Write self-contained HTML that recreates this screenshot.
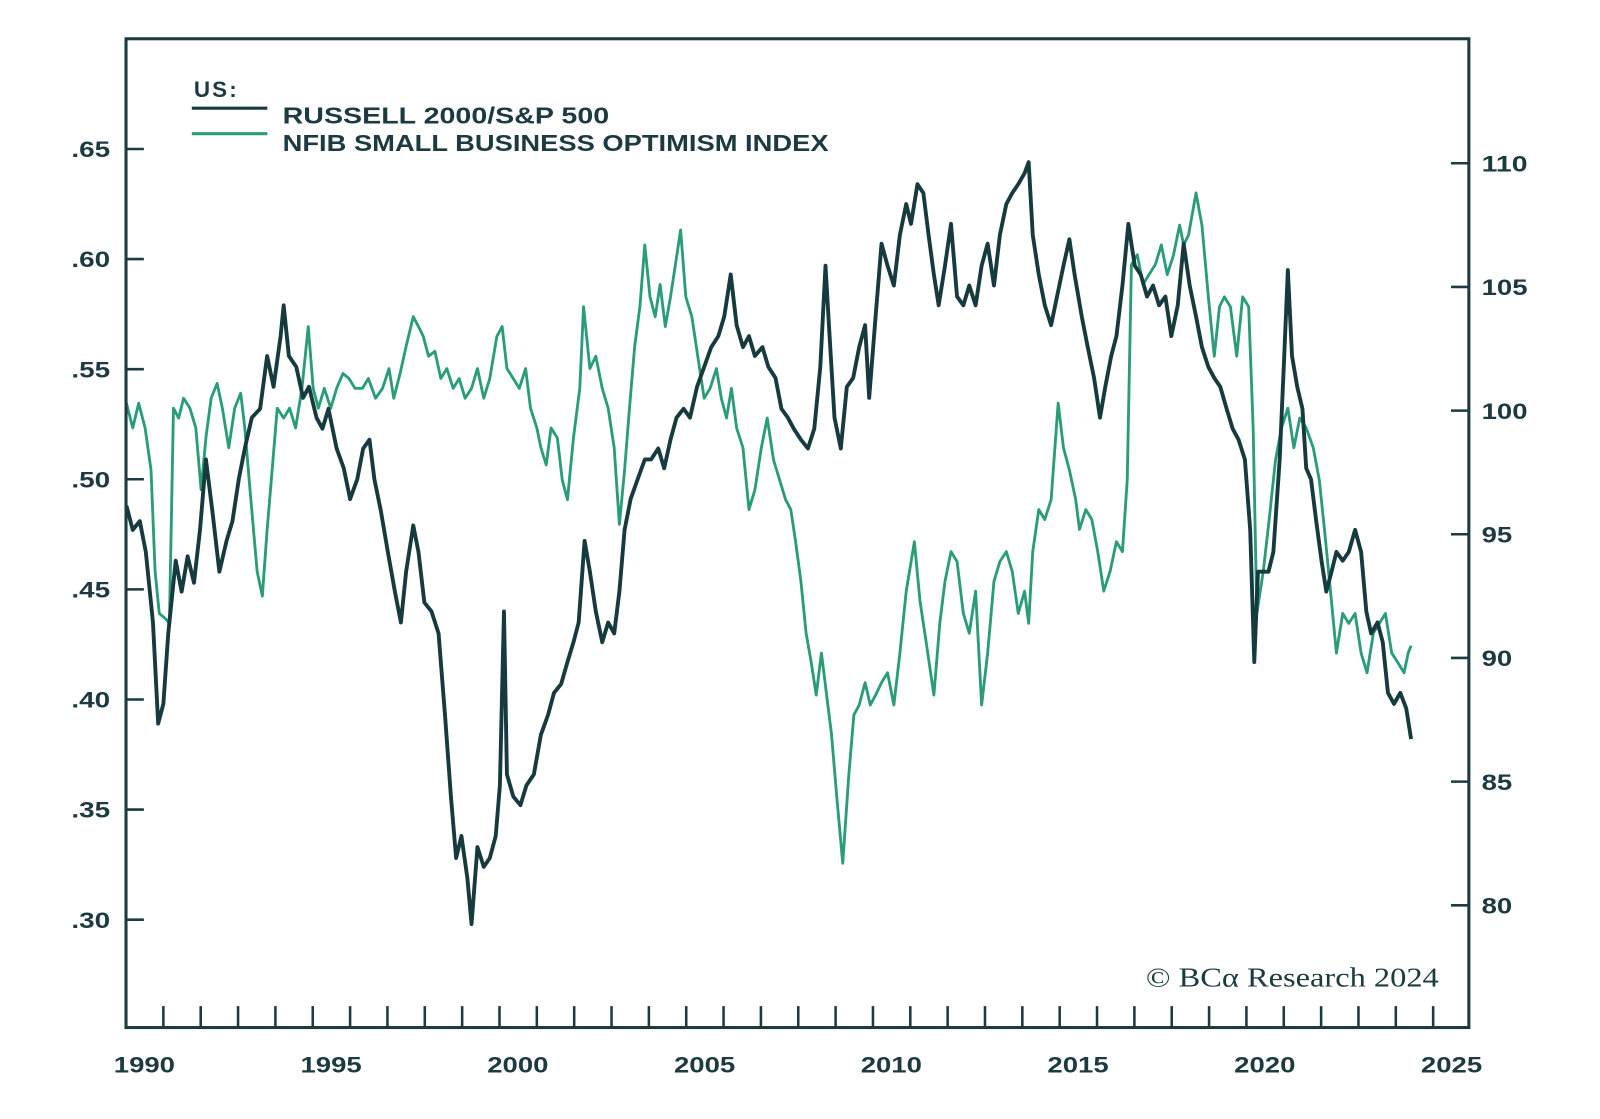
<!DOCTYPE html>
<html><head><meta charset="utf-8"><style>
html,body{margin:0;padding:0;background:#fff;}
svg{display:block;font-family:"Liberation Sans",sans-serif;}
</style></head><body>
<svg id="chart" width="1600" height="1119" viewBox="0 0 1600 1119">
<rect x="0" y="0" width="1600" height="1119" fill="#fff"/>
<defs><clipPath id="plotclip"><rect x="124" y="39" width="1315" height="967"/></clipPath></defs>
<g transform="scale(1.0204)">
<g id="axes"></g>
<g id="series" clip-path="url(#plotclip)"></g>
<rect x="123.5" y="38" width="1316" height="969" fill="none" stroke="#1c3a3f" stroke-width="3"/>
<g>
<text x="190" y="95" font-size="22" font-weight="bold" fill="#1c3a3f" textLength="42">US:</text>
<line x1="188" y1="106" x2="262" y2="106" stroke="#163a3e" stroke-width="3"/>
<text x="277" y="121" font-size="23" font-weight="bold" fill="#1c3a3f" textLength="320" lengthAdjust="spacingAndGlyphs">RUSSELL 2000/S&amp;P 500</text>
<line x1="188" y1="131" x2="262" y2="131" stroke="#2a9d78" stroke-width="3"/>
<text x="277" y="148" font-size="23" font-weight="bold" fill="#1c3a3f" textLength="535" lengthAdjust="spacingAndGlyphs">NFIB SMALL BUSINESS OPTIMISM INDEX</text>
</g>
<text x="1123" y="967" font-size="27" fill="#1c3a3f" font-family="Liberation Serif, serif" textLength="287" lengthAdjust="spacingAndGlyphs">© BCα Research 2024</text>
</g>
</svg>
<script>
const xTickYears=[1990,1995,2000,2005,2010,2015,2020,2025];
const leftTicks=[0.30,0.35,0.40,0.45,0.50,0.55,0.60,0.65];
const leftLabels=[".30",".35",".40",".45",".50",".55",".60",".65"];
const rightTicks=[80,85,90,95,100,105,110];
const russellYears=[1990.01,1990.18,1990.37,1990.53,1990.72,1990.86,1991.00,1991.13,1991.33,1991.49,1991.65,1991.82,1991.98,1992.14,1992.31,1992.50,1992.69,1992.85,1993.02,1993.18,1993.37,1993.59,1993.78,1993.95,1994.14,1994.22,1994.36,1994.56,1994.74,1994.90,1995.10,1995.26,1995.42,1995.64,1995.83,1996.00,1996.19,1996.35,1996.52,1996.65,1996.82,1997.01,1997.20,1997.36,1997.50,1997.69,1997.83,1997.99,1998.18,1998.37,1998.54,1998.70,1998.84,1998.98,1999.14,1999.25,1999.41,1999.58,1999.74,1999.90,2000.01,2000.12,2000.20,2000.37,2000.56,2000.72,2000.92,2001.11,2001.30,2001.46,2001.65,2001.82,2001.98,2002.12,2002.28,2002.42,2002.58,2002.75,2002.91,2003.07,2003.21,2003.35,2003.51,2003.70,2003.89,2004.06,2004.25,2004.41,2004.58,2004.74,2004.93,2005.10,2005.29,2005.48,2005.67,2005.86,2006.02,2006.19,2006.35,2006.52,2006.68,2006.84,2007.04,2007.20,2007.39,2007.55,2007.72,2007.88,2008.07,2008.26,2008.43,2008.59,2008.73,2008.84,2008.97,2009.14,2009.30,2009.47,2009.63,2009.79,2009.90,2010.07,2010.23,2010.39,2010.56,2010.72,2010.89,2011.02,2011.19,2011.35,2011.49,2011.63,2011.76,2011.93,2012.09,2012.25,2012.42,2012.58,2012.75,2012.91,2013.07,2013.24,2013.40,2013.57,2013.73,2013.89,2014.06,2014.17,2014.28,2014.44,2014.60,2014.77,2014.93,2015.10,2015.26,2015.40,2015.59,2015.75,2015.92,2016.08,2016.22,2016.38,2016.52,2016.68,2016.84,2017.01,2017.17,2017.34,2017.50,2017.66,2017.83,2017.99,2018.16,2018.32,2018.48,2018.65,2018.81,2018.98,2019.14,2019.30,2019.47,2019.63,2019.79,2019.96,2020.10,2020.21,2020.31,2020.45,2020.59,2020.72,2020.89,2021.00,2021.11,2021.22,2021.36,2021.50,2021.60,2021.73,2021.87,2022.01,2022.14,2022.28,2022.41,2022.58,2022.74,2022.91,2023.07,2023.21,2023.34,2023.51,2023.65,2023.79,2023.95,2024.12,2024.28,2024.41];
const russellValues=[.488,.477,.481,.467,.435,.389,.398,.430,.463,.449,.465,.453,.477,.509,.486,.458,.472,.481,.500,.514,.528,.532,.556,.542,.565,.579,.556,.551,.537,.542,.528,.523,.532,.514,.505,.491,.500,.514,.518,.500,.486,.467,.449,.435,.458,.479,.467,.444,.440,.430,.393,.356,.328,.338,.319,.298,.333,.324,.328,.338,.361,.440,.366,.356,.352,.361,.366,.384,.393,.403,.407,.417,.426,.435,.472,.458,.440,.426,.435,.430,.449,.477,.491,.500,.509,.509,.514,.505,.518,.528,.532,.528,.542,.551,.560,.565,.574,.593,.570,.560,.565,.556,.560,.551,.546,.532,.528,.523,.518,.514,.523,.551,.597,.565,.528,.514,.542,.546,.560,.570,.537,.574,.607,.597,.588,.611,.625,.616,.634,.630,.611,.593,.579,.597,.616,.583,.579,.588,.579,.597,.607,.588,.611,.625,.630,.634,.639,.644,.611,.593,.579,.570,.583,.597,.609,.593,.574,.560,.546,.528,.542,.556,.565,.588,.616,.597,.593,.583,.588,.579,.583,.565,.579,.607,.588,.574,.560,.551,.546,.542,.532,.523,.518,.509,.477,.417,.458,.458,.458,.467,.509,.551,.595,.556,.542,.532,.505,.500,.481,.463,.449,.458,.467,.463,.467,.477,.467,.440,.430,.435,.426,.403,.398,.403,.396,.382];
const nfibYears=[1990.01,1990.18,1990.34,1990.51,1990.67,1990.78,1990.89,1991.05,1991.16,1991.27,1991.41,1991.54,1991.71,1991.87,1992.01,1992.14,1992.28,1992.44,1992.58,1992.75,1992.91,1993.07,1993.18,1993.32,1993.51,1993.65,1993.78,1993.89,1994.05,1994.22,1994.38,1994.54,1994.71,1994.88,1995.01,1995.15,1995.31,1995.48,1995.64,1995.81,1995.97,1996.13,1996.33,1996.49,1996.68,1996.87,1997.04,1997.17,1997.34,1997.50,1997.69,1997.83,1997.96,1998.10,1998.27,1998.43,1998.59,1998.76,1998.92,1999.08,1999.25,1999.41,1999.58,1999.74,1999.93,2000.07,2000.20,2000.37,2000.53,2000.70,2000.83,2001.00,2001.11,2001.25,2001.38,2001.55,2001.68,2001.82,2001.98,2002.15,2002.25,2002.42,2002.58,2002.75,2002.91,2003.07,2003.21,2003.35,2003.48,2003.62,2003.76,2003.89,2004.03,2004.17,2004.30,2004.44,2004.58,2004.71,2004.85,2004.99,2005.15,2005.31,2005.48,2005.64,2005.81,2005.94,2006.08,2006.21,2006.35,2006.52,2006.68,2006.84,2007.01,2007.17,2007.34,2007.50,2007.66,2007.80,2007.93,2008.07,2008.21,2008.35,2008.48,2008.62,2008.76,2008.89,2009.03,2009.19,2009.35,2009.49,2009.63,2009.79,2009.93,2010.07,2010.23,2010.39,2010.56,2010.72,2010.89,2011.11,2011.26,2011.43,2011.63,2011.79,2011.93,2012.09,2012.25,2012.42,2012.58,2012.75,2012.91,2013.07,2013.24,2013.40,2013.57,2013.73,2013.89,2014.06,2014.17,2014.28,2014.44,2014.60,2014.77,2014.96,2015.10,2015.26,2015.43,2015.53,2015.70,2015.86,2016.02,2016.18,2016.35,2016.52,2016.68,2016.81,2016.92,2017.08,2017.23,2017.39,2017.56,2017.72,2017.88,2018.05,2018.21,2018.32,2018.45,2018.65,2018.81,2018.98,2019.14,2019.28,2019.41,2019.57,2019.74,2019.90,2020.06,2020.18,2020.28,2020.45,2020.61,2020.78,2020.94,2021.11,2021.27,2021.43,2021.60,2021.79,2021.95,2022.09,2022.25,2022.41,2022.58,2022.74,2022.91,2023.07,2023.23,2023.40,2023.56,2023.72,2023.89,2024.06,2024.22,2024.33,2024.41];
const nfibValues=[100.3,99.3,100.3,99.3,97.6,93.5,91.8,91.6,91.4,100.1,99.7,100.5,100.1,99.3,96.8,98.9,100.5,101.1,100.1,98.5,100.1,100.7,99.3,96.8,93.5,92.5,95.2,97.2,100.1,99.7,100.1,99.3,100.9,103.4,100.9,100.1,100.9,100.1,100.9,101.5,101.3,100.9,100.9,101.3,100.5,100.9,101.7,100.5,101.5,102.6,103.8,103.4,103.0,102.2,102.4,101.3,101.7,100.9,101.3,100.5,100.9,101.7,100.5,101.3,103.0,103.4,101.7,101.3,100.9,101.7,100.1,99.3,98.5,97.8,99.3,98.9,97.2,96.4,98.9,100.9,104.2,101.7,102.2,100.9,100.1,98.5,95.4,97.6,100.1,102.6,104.2,106.7,104.6,103.8,105.1,103.4,104.6,105.9,107.3,104.6,103.8,102.2,100.5,100.9,101.7,100.5,99.7,100.9,99.3,98.5,96.0,96.8,98.5,99.7,98.0,97.2,96.4,96.0,94.7,93.1,91.0,89.8,88.5,90.2,88.5,86.9,84.4,81.7,85.2,87.7,88.1,89.0,88.1,88.5,89.0,89.4,88.1,90.2,92.7,94.7,92.3,90.6,88.5,91.4,93.1,94.3,93.9,91.8,91.0,92.7,88.1,90.2,93.1,93.9,94.3,93.5,91.8,92.7,91.4,94.3,96.0,95.6,96.4,100.3,98.5,97.6,96.4,95.2,96.0,95.6,94.3,92.7,93.5,94.7,94.3,97.2,105.9,106.3,105.1,105.5,105.9,106.7,105.5,106.3,107.5,106.7,107.1,108.8,107.5,104.6,102.2,104.2,104.6,104.2,102.2,104.6,104.2,99.3,91.8,93.5,95.6,98.0,99.3,100.1,98.5,99.7,99.3,98.5,97.2,95.2,92.7,90.2,91.8,91.4,91.8,90.2,89.4,91.0,91.4,91.8,90.2,89.8,89.4,90.2,90.5];

const NS="http://www.w3.org/2000/svg";
const X0=123.5, PXY=36.6;
function xs(year){return X0+(year-1990)*PXY;}
function yl(v){return 146+(0.65-v)/0.05*107.9;}
function yr(v){return 160+(110-v)/5*121.2;}
const axes=document.getElementById('axes');
const series=document.getElementById('series');
function mk(tag,attrs,parent){const e=document.createElementNS(NS,tag);for(const k in attrs)e.setAttribute(k,attrs[k]);parent.appendChild(e);return e;}
const C="#1c3a3f";
for(let y=1991;y<=2025;y++){
  const t=mk('line',{x1:xs(y),x2:xs(y),y1:1007,y2:986,stroke:C,'stroke-width':2.5},axes);
  
  
}
xTickYears.forEach(y=>{
  const t=mk('text',{x:xs(y)+18,y:1051,'text-anchor':'middle','font-size':22,'font-weight':'bold',fill:C,textLength:60,lengthAdjust:'spacingAndGlyphs'},axes);
  t.textContent=String(y);
  
  
});
leftTicks.forEach((v,i)=>{
  const t=mk('line',{x1:123,x2:141,y1:yl(v),y2:yl(v),stroke:C,'stroke-width':2.5},axes);
  
  
  const l=mk('text',{x:108,y:yl(v)+8,'text-anchor':'end','font-size':22,'font-weight':'bold',fill:C,textLength:38,lengthAdjust:'spacingAndGlyphs'},axes);
  l.textContent=leftLabels[i];
  
  
});
rightTicks.forEach(v=>{
  const t=mk('line',{x1:1422,x2:1440,y1:yr(v),y2:yr(v),stroke:C,'stroke-width':2.5},axes);
  
  
  const l=mk('text',{x:1452,y:yr(v)+8,'font-size':22,'font-weight':'bold',fill:C,textLength:String(v).length*15,lengthAdjust:'spacingAndGlyphs'},axes);
  l.textContent=String(v);
  
  
});
function path(xsArr,vals,yf){return xsArr.map((x,i)=>(i?'L':'M')+xs(x).toFixed(1)+','+yf(vals[i]).toFixed(1)).join('');}
const g=mk('path',{d:path(nfibYears,nfibValues,yr),fill:'none',stroke:'#2a9d78','stroke-width':2.8,'stroke-linejoin':'round'},series);


const r=mk('path',{d:path(russellYears,russellValues,yl),fill:'none',stroke:'#163a3e','stroke-width':3.8,'stroke-linejoin':'round'},series);


</script>
</body></html>
